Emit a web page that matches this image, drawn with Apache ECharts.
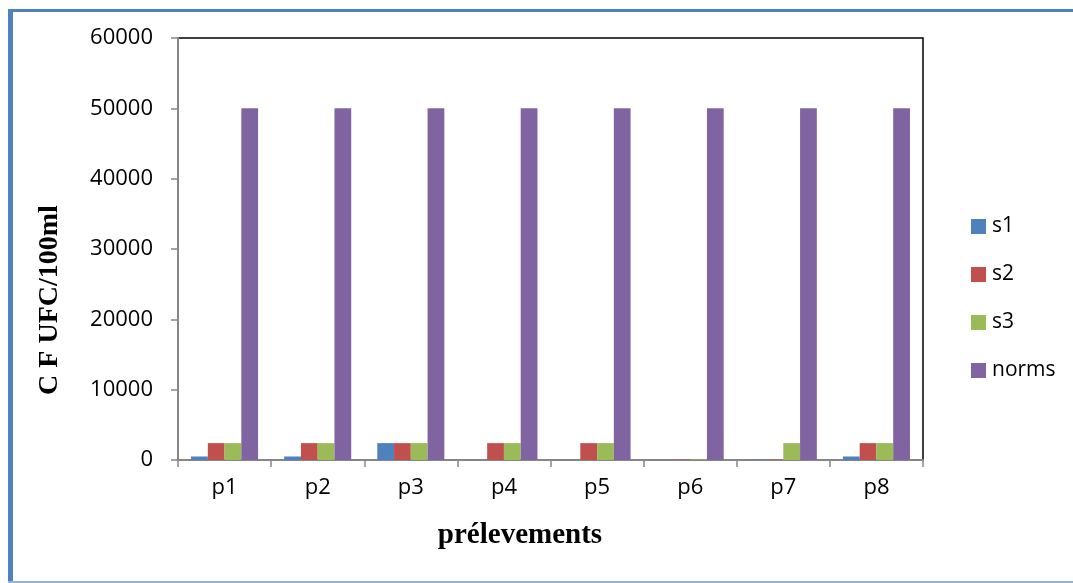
<!DOCTYPE html>
<html>
<head>
<meta charset="utf-8">
<script src="https://cdn.jsdelivr.net/npm/echarts@6/dist/echarts.min.js"></script>
<style>
  html, body { margin: 0; padding: 0; background: #fff; }
  #chart { width: 1073px; height: 583px; }
</style>
</head>
<body>
<div id="chart"></div>
<script>
// Sampling points and measured fecal coliform counts (UFC/100ml)
const categories = ['p1', 'p2', 'p3', 'p4', 'p5', 'p6', 'p7', 'p8'];
const s1 = [500, 500, 2400, 0, 0, 0, 50, 500];
const s2 = [2400, 2400, 2400, 2400, 2400, 50, 50, 2400];
const s3 = [2400, 2400, 2400, 2400, 2400, 50, 2400, 2400];
const norms = [50000, 50000, 50000, 50000, 50000, 50000, 50000, 50000];
const yTicks = [0, 10000, 20000, 30000, 40000, 50000, 60000];

const seriesNames = ['s1', 's2', 's3', 'norms'];
const seriesData = [s1, s2, s3, norms];
const colors = ['#4f81bd', '#c0504d', '#9bbb59', '#8064a2'];

const xTitle = 'prélevements';
const yTitle = 'C F UFC/100ml';

const chart = echarts.init(document.getElementById('chart'), null, { renderer: 'canvas' });

const labelFont = '"Open Sans", "Liberation Sans", sans-serif';
const titleFont = '"Liberation Serif", "DejaVu Serif", serif';

chart.setOption({
  animation: false,
  backgroundColor: '#ffffff',
  color: colors,
  grid: {
    left: 178, top: 38, width: 745, height: 422,
    show: true, borderColor: '#000', borderWidth: 1.5, backgroundColor: 'transparent'
  },
  legend: {
    orient: 'vertical',
    left: 966, top: 211,
    itemWidth: 15, itemHeight: 15, itemGap: 27,
    icon: 'rect',
    textStyle: { fontFamily: labelFont, fontSize: 21, color: '#000', padding: [0, 0, 0, 1] },
    data: seriesNames
  },
  xAxis: {
    type: 'category',
    data: categories,
    axisLine: { lineStyle: { color: '#868686', width: 2 } },
    axisTick: { show: true, length: 7, lineStyle: { color: '#868686', width: 1.5 } },
    axisLabel: { fontFamily: labelFont, fontSize: 22, color: '#000', margin: 17 }
  },
  yAxis: {
    type: 'value',
    min: yTicks[0], max: yTicks[yTicks.length - 1], interval: yTicks[1] - yTicks[0],
    axisLine: { show: true, lineStyle: { color: '#868686', width: 2 } },
    axisTick: { show: true, inside: false, length: 7, lineStyle: { color: '#868686', width: 1.5 } },
    axisLabel: { fontFamily: labelFont, fontSize: 22, color: '#000', margin: 25, formatter: v => String(v) },
    splitLine: { show: false }
  },
  series: seriesNames.map((name, i) => ({
    name: name,
    type: 'bar',
    data: seriesData[i],
    barGap: '0%',
    barCategoryGap: '28%',
    itemStyle: { color: colors[i] }
  })),
  graphic: [
    { type: 'rect', shape: { x: 8, y: 9, width: 5, height: 574 }, style: { fill: '#4f81bd' } },
    { type: 'rect', shape: { x: 8, y: 9, width: 1065, height: 3 }, style: { fill: '#4f81bd' } },
    { type: 'rect', shape: { x: 8, y: 581, width: 1065, height: 2 }, style: { fill: '#95b3d7' } },
    {
      type: 'text', x: 520, y: 536,
      style: { text: xTitle, font: 'bold 29px ' + titleFont, fill: '#000', textAlign: 'center', textVerticalAlign: 'middle' }
    },
    {
      type: 'text', x: 50, y: 300, rotation: Math.PI / 2,
      style: { text: yTitle, font: 'bold 28px ' + titleFont, fill: '#000', textAlign: 'center', textVerticalAlign: 'middle' }
    }
  ]
});
</script>
</body>
</html>
